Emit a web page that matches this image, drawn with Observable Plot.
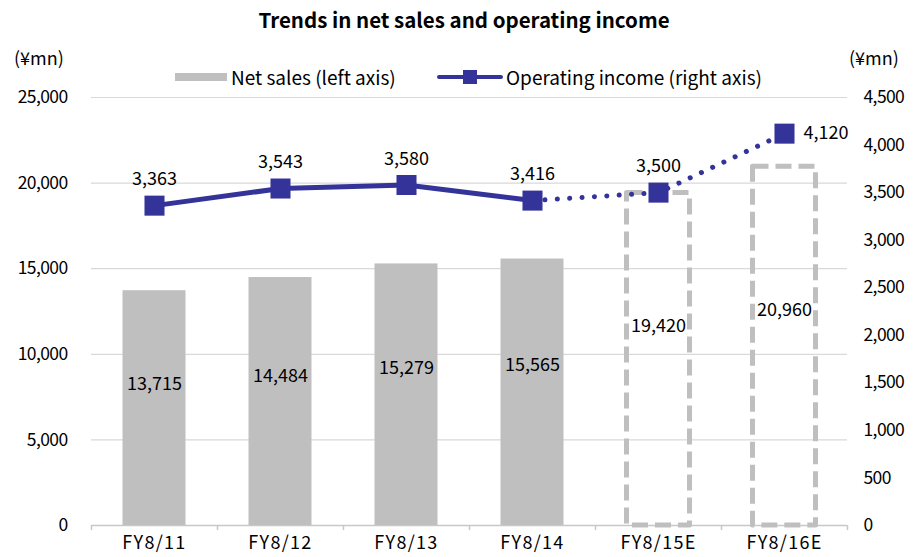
<!DOCTYPE html>
<html>
<head>
<meta charset="utf-8">
<script src="https://cdn.jsdelivr.net/npm/d3@7"></script>
<script src="https://cdn.jsdelivr.net/npm/@observablehq/plot@0.6"></script>
<style>
  html, body { margin: 0; padding: 0; background: #fff; }
  #wrap { position: relative; width: 914px; height: 557px; font-family: "Noto Sans CJK JP", "Noto Sans", sans-serif; color: #000; }
  #wrap svg { position: absolute; left: 0; top: 0; }
  .abs { position: absolute; white-space: nowrap; line-height: 1; }
  #title { left: 0; width: 928px; top: 9px; text-align: center; font-size: 20.5px; font-weight: 700; }
  .unit { top: 48px; font-size: 18px; }
  .leg { top: 67px; font-size: 19px; }
  #chart svg g[aria-label="x-axis tick label"] text { letter-spacing: 1.3px; }
  #chart svg g[aria-label="y-axis tick label"] text { letter-spacing: -0.6px; }
</style>
</head>
<body>
<div id="wrap">
  <div id="chart"></div>
  <div class="abs" id="title">Trends in net sales and operating income</div>
  <div class="abs unit" style="left:14px">(¥mn)</div>
  <div class="abs unit" style="left:849px">(¥mn)</div>
  <div class="abs" style="left:175px; top:73px; width:52px; height:8px; background:#bfbfbf"></div>
  <div class="abs leg" style="left:231px">Net sales (left axis)</div>
  <div class="abs" style="left:437px; top:75px; width:66px; height:4px; background:#333399; border-radius:2px"></div>
  <div class="abs" style="left:463px; top:70px; width:14px; height:14px; background:#333399"></div>
  <div class="abs leg" style="left:506px">Operating income (right axis)</div>
</div>
<script>
const categories = ["FY8/11", "FY8/12", "FY8/13", "FY8/14", "FY8/15E", "FY8/16E"];
const netSales = [13715, 14484, 15279, 15565, 19420, 20960];
const operatingIncome = [3363, 3543, 3580, 3416, 3500, 4120];
const isEstimate = [false, false, false, false, true, true];
const leftTicks = [0, 5000, 10000, 15000, 20000, 25000];
const rightTicks = [0, 500, 1000, 1500, 2000, 2500, 3000, 3500, 4000, 4500];

const leftMax = 25000, rightMax = 4500;
const k = leftMax / rightMax;
const fmt = d3.format(",");

const data = categories.map((c, i) => ({cat: c, sales: netSales[i], oi: operatingIncome[i], est: isEstimate[i]}));
const actual = data.filter(d => !d.est);
const lastActual = actual.length - 1;
const solidPts = data.slice(0, lastActual + 1);
const dottedPts = data.slice(lastActual);

const W = 914, H = 557, mL = 91, mR = 67, mT = 97, mB = 32;
const band = (W - mL - mR) / categories.length;
const barInset = band / 4;
const blue = "#333399", gray = "#bfbfbf";

const chart = Plot.plot({
  width: W, height: H,
  marginLeft: mL, marginRight: mR, marginTop: mT, marginBottom: mB,
  style: {fontFamily: '"Noto Sans CJK JP", "Noto Sans", sans-serif', fontSize: "17px", color: "#000", background: "transparent"},
  x: {type: "band", domain: categories, padding: 0},
  y: {domain: [0, leftMax]},
  marks: [
    Plot.gridY(leftTicks, {stroke: "#d9d9d9", strokeOpacity: 1, strokeWidth: 1.2}),
    Plot.ruleY([0], {stroke: "#c8c8c8", strokeWidth: 1.5}),
    Plot.ruleX(categories, {x: d => d, y1: 0, y2: -300, dx: -band / 2, stroke: "#c8c8c8", strokeWidth: 1.5}),
    Plot.ruleX(categories.slice(-1), {x: d => d, y1: 0, y2: -300, dx: band / 2, stroke: "#c8c8c8", strokeWidth: 1.5}),
    Plot.barY(actual, {x: "cat", y: "sales", fill: gray, insetLeft: barInset, insetRight: barInset}),
    Plot.barY(data.filter(d => d.est), {x: "cat", y: "sales", fill: "none", stroke: gray, strokeWidth: 5,
      strokeDasharray: "16 7", strokeLinejoin: "round", insetLeft: barInset, insetRight: barInset}),
    Plot.text(data, {x: "cat", y: d => d.sales * 0.6, text: d => fmt(d.sales), fill: "#000", fontSize: 18}),
    Plot.line(solidPts, {x: "cat", y: d => d.oi * k, stroke: blue, strokeWidth: 5}),
    Plot.line(dottedPts, {x: "cat", y: d => d.oi * k, stroke: blue, strokeWidth: 5, strokeDasharray: "0.1 12.3", strokeLinecap: "round"}),
    Plot.dot(data, {x: "cat", y: d => d.oi * k, symbol: "square", r: 11.3, fill: blue, stroke: "none"}),
    Plot.text(data.slice(0, -1), {x: "cat", y: d => d.oi * k, text: d => fmt(d.oi), dy: -26, fill: "#000", fontSize: 18}),
    Plot.text(data.slice(-1), {x: "cat", y: d => d.oi * k, text: d => fmt(d.oi), dx: 19, textAnchor: "start", fill: "#000", fontSize: 18}),
    Plot.axisY(leftTicks, {anchor: "left", tickSize: 0, tickPadding: 24, tickFormat: fmt, label: null, fontSize: 17.5}),
    Plot.axisY(rightTicks.map(v => v * k), {anchor: "right", tickSize: 0, tickPadding: 16, label: null,
      tickFormat: d => fmt(Math.round(d / k)), fontSize: 17.5}),
    Plot.axisX({tickSize: 0, tickPadding: 11, label: null, fontSize: 18})
  ]
});
document.getElementById("chart").appendChild(chart);
</script>
</body>
</html>
